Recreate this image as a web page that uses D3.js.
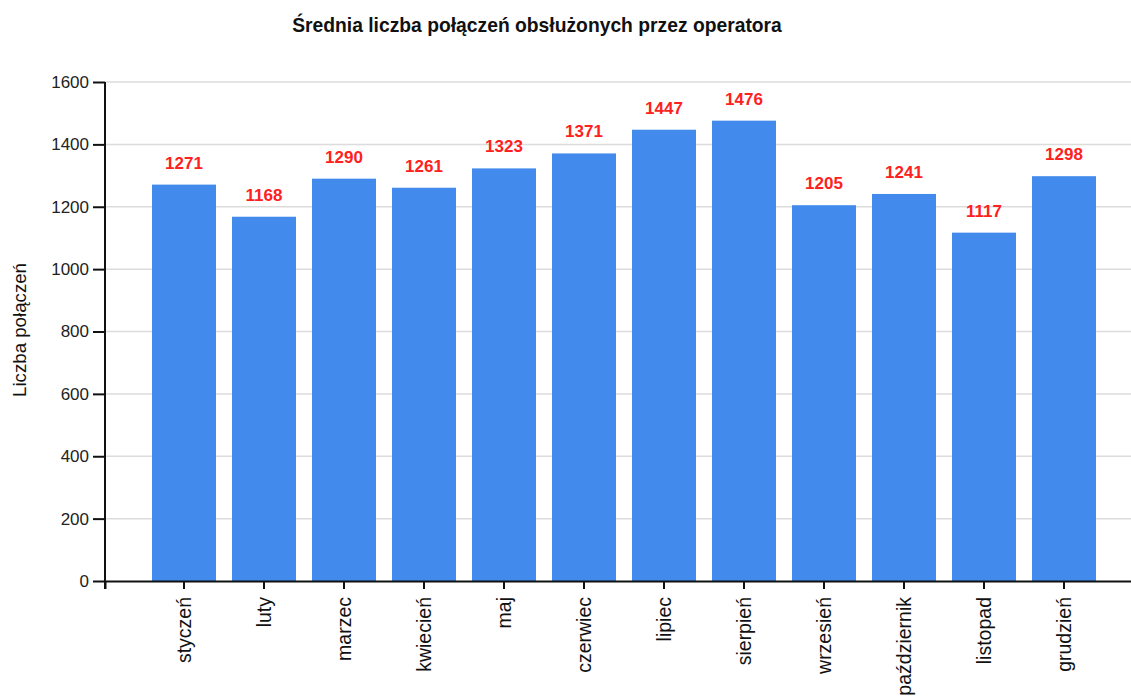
<!DOCTYPE html>
<html lang="pl">
<head>
<meta charset="utf-8">
<script src="https://d3js.org/d3.v7.min.js"></script>
<style>
  body { margin: 0; background: #fff; font-family: "Liberation Sans", Arial, sans-serif; }
</style>
</head>
<body>
<script>
// chart data
var months = ["styczeń", "luty", "marzec", "kwiecień", "maj", "czerwiec",
              "lipiec", "sierpień", "wrzesień", "październik", "listopad", "grudzień"];
var calls = [1271, 1168, 1290, 1261, 1323, 1371, 1447, 1476, 1205, 1241, 1117, 1298];
var yTicks = [0, 200, 400, 600, 800, 1000, 1200, 1400, 1600];

var w = 1131, h = 699;
var padLeft = 105, padRight = 1143, padTop = 82, padBottom = 581;

var svg = d3.select("body").append("svg")
    .attr("width", w)
    .attr("height", h);

var x = d3.scaleBand()
    .domain(months)
    .range([padLeft, padRight])
    .paddingInner(0.2)
    .paddingOuter(0.5875);

var y = d3.scaleLinear()
    .domain([0, 1600])
    .range([padBottom, padTop]);

// title
svg.append("text")
    .attr("x", 537)
    .attr("y", 32)
    .attr("text-anchor", "middle")
    .style("font-size", "19.3px")
    .style("font-weight", "bold")
    .attr("fill", "#111")
    .text("Średnia liczba połączeń obsłużonych przez operatora");

// gridlines
svg.append("g").selectAll("line")
    .data(yTicks.slice(1))
    .enter().append("line")
    .attr("x1", padLeft)
    .attr("x2", w)
    .attr("y1", function(d) { return y(d); })
    .attr("y2", function(d) { return y(d); })
    .attr("stroke", "#dcdcdc")
    .attr("stroke-width", 1.5);

// bars
svg.append("g").selectAll("rect")
    .data(calls)
    .enter().append("rect")
    .attr("x", function(d, i) { return x(months[i]); })
    .attr("y", function(d) { return y(d); })
    .attr("width", x.bandwidth())
    .attr("height", function(d) { return y(0) - y(d); })
    .attr("fill", "#428bed");

// value labels
svg.append("g").selectAll("text")
    .data(calls)
    .enter().append("text")
    .attr("x", function(d, i) { return x(months[i]) + x.bandwidth() / 2; })
    .attr("y", function(d) { return y(d) - 16; })
    .attr("text-anchor", "middle")
    .style("font-size", "17px")
    .style("font-weight", "bold")
    .attr("fill", "#ff2020")
    .text(function(d) { return d; });

// y axis
var yAxis = svg.append("g")
    .attr("transform", "translate(" + padLeft + ",0)")
    .call(d3.axisLeft(y).tickValues(yTicks).tickSize(12).tickSizeOuter(0).tickPadding(4)
        .tickFormat(d3.format("d")));
yAxis.selectAll("text").style("font-size", "17px").attr("fill", "#222");
yAxis.selectAll("line, path").attr("stroke", "#111").attr("stroke-width", 2);
yAxis.select("path").attr("d", "M0," + padTop + "V" + (padBottom + 8));

// x axis
var xAxis = svg.append("g")
    .attr("transform", "translate(0," + padBottom + ")")
    .call(d3.axisBottom(x).tickSize(8).tickSizeOuter(8));
xAxis.selectAll("line, path").attr("stroke", "#111").attr("stroke-width", 2);
xAxis.selectAll("text")
    .style("font-size", "19.5px")
    .attr("fill", "#111")
    .attr("text-anchor", "end")
    .attr("transform", "rotate(-90)")
    .attr("x", -16)
    .attr("y", 0)
    .attr("dy", "0.35em");

// y axis title
svg.append("text")
    .attr("transform", "translate(26,330) rotate(-90)")
    .attr("text-anchor", "middle")
    .style("font-size", "18.7px")
    .attr("fill", "#111")
    .text("Liczba połączeń");
</script>
</body>
</html>
